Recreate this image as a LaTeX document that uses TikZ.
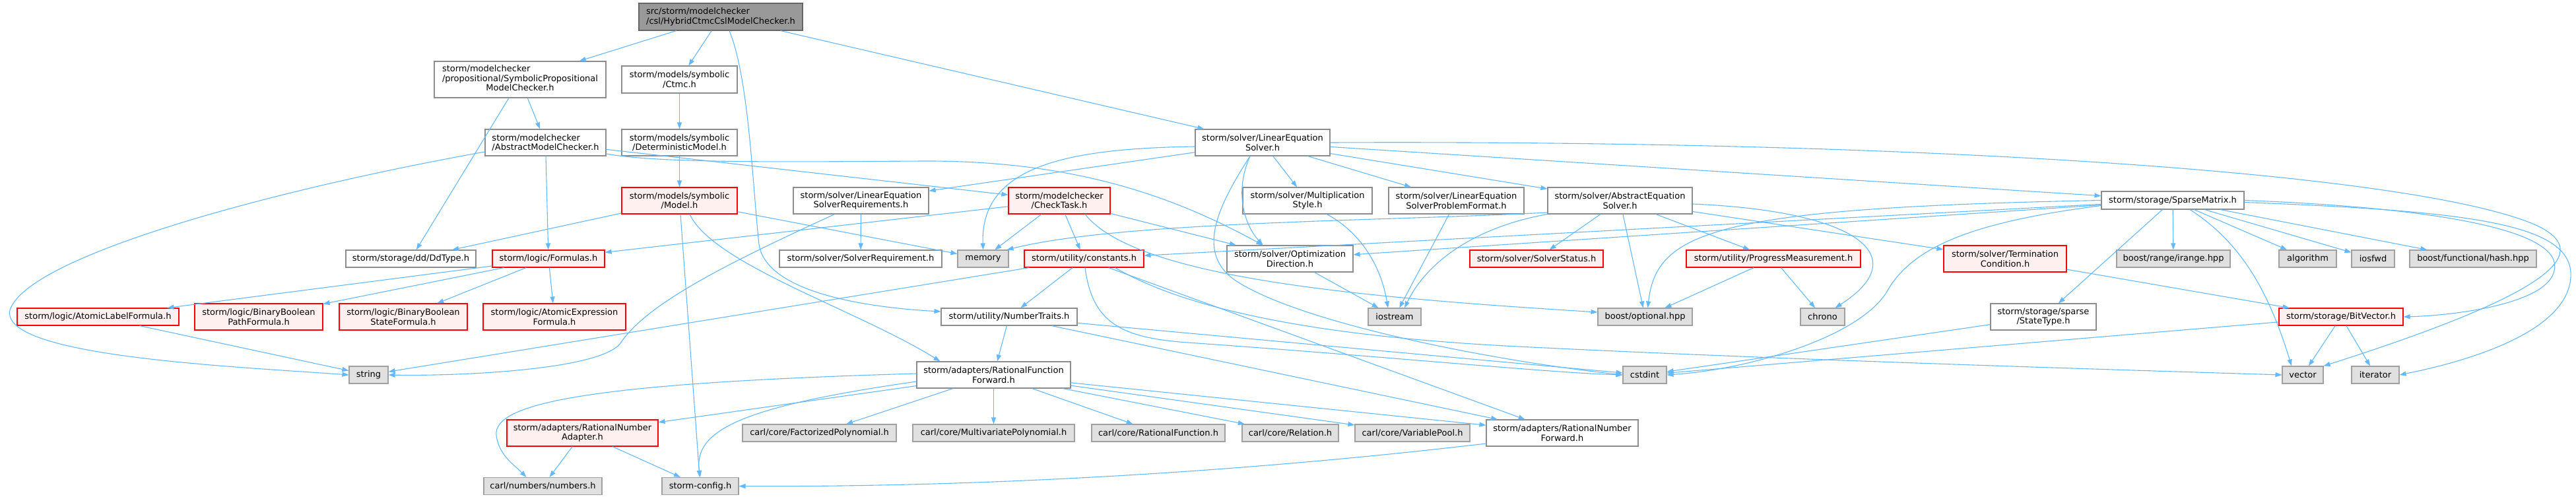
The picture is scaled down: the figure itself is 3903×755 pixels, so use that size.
\documentclass[tikz,border=0pt]{standalone}
\usepackage{fontspec}
\setmainfont{DejaVu Sans}
\usetikzlibrary{arrows.meta}
\definecolor{incblue}{HTML}{63B8FF}
\definecolor{nodeline}{HTML}{8C8C8C}
\definecolor{sysline}{HTML}{A0A0A0}
\definecolor{sysfill}{HTML}{E0E0E0}
\definecolor{redfill}{HTML}{FFF0F0}
\definecolor{rootfill}{HTML}{999999}
\definecolor{rootline}{HTML}{666666}

\begin{document}
\begin{tikzpicture}[x=1pt,y=-1pt,
    hdr/.style={draw,line width=1.1pt,inner sep=0pt,align=center,
      font=\fontsize{13}{14.5}\selectfont},
    plainhdr/.style={hdr,draw=nodeline,fill=white},
    redhdr/.style={hdr,draw=red,fill=redfill},
    syshdr/.style={hdr,draw=sysline,fill=sysfill},
    roothdr/.style={hdr,draw=rootline,fill=rootfill},
    sz/.style 2 args={minimum width=#1pt,minimum height=#2pt},
    inc/.style={draw=incblue,line width=1.1pt,
      -{Triangle[length=10pt,width=7pt]}}]
  \useasboundingbox (0,0) rectangle (3903,755);

  % The file itself and its direct includes.
  \node[roothdr,sz={248}{41},align=left] (root) at (1092,25.5)
    {src/storm/modelchecker\\/csl/HybridCtmcCslModelChecker.h};
  \node[plainhdr,sz={260}{55}] (spmc) at (788,120.5)
    {\begin{tabular}{@{}l@{}}storm/modelchecker\\
     /propositional/SymbolicPropositional\\
     \multicolumn{1}{@{}c@{}}{ModelChecker.h}\end{tabular}};
  \node[plainhdr,sz={175}{41}] (ctmc) at (1029.5,120.5)
    {storm/models/symbolic\\/Ctmc.h};
  \node[plainhdr,sz={183}{40},align=left] (amc) at (826.5,216)
    {storm/modelchecker\\/AbstractModelChecker.h};
  \node[plainhdr,sz={175}{40}] (detm) at (1029.5,216)
    {storm/models/symbolic\\/DeterministicModel.h};
  \node[plainhdr,sz={204}{40}] (les) at (1913,216)
    {storm/solver/LinearEquation\\Solver.h};

  % Row of the models and solvers.
  \node[redhdr,sz={175}{40}] (model) at (1029.5,304)
    {storm/models/symbolic\\/Model.h};
  \node[plainhdr,sz={205}{40}] (lesreq) at (1304.5,304)
    {storm/solver/LinearEquation\\SolverRequirements.h};
  \node[redhdr,sz={154}{40}] (checktask) at (1605,304)
    {storm/modelchecker\\/CheckTask.h};
  \node[plainhdr,sz={196}{40}] (multstyle) at (1981,304)
    {storm/solver/Multiplication\\Style.h};
  \node[plainhdr,sz={205}{40}] (lespf) at (2206.5,304)
    {storm/solver/LinearEquation\\SolverProblemFormat.h};
  \node[plainhdr,sz={219}{40}] (aes) at (2454.5,304)
    {storm/solver/AbstractEquation\\Solver.h};
  \node[plainhdr,sz={216}{27}] (sparse) at (3292,303.5)
    {storm/storage/SparseMatrix.h};

  % Middle row.
  \node[plainhdr,sz={197}{26}] (ddtype) at (622.5,392) {storm/storage/dd/DdType.h};
  \node[redhdr,sz={170}{26}] (formulas) at (831,392) {storm/logic/Formulas.h};
  \node[plainhdr,sz={246}{26}] (solreq) at (1304,392) {storm/solver/SolverRequirement.h};
  \node[syshdr,sz={77}{26}] (memory) at (1489.5,392) {memory};
  \node[redhdr,sz={181}{26}] (constants) at (1642.5,392) {storm/utility/constants.h};
  \node[plainhdr,sz={191}{40}] (optdir) at (1954.5,392)
    {storm/solver/Optimization\\Direction.h};
  \node[redhdr,sz={202}{26}] (solstat) at (2328,392) {storm/solver/SolverStatus.h};
  \node[redhdr,sz={264}{26}] (progress) at (2687,392)
    {storm/utility/ProgressMeasurement.h};
  \node[redhdr,sz={186}{40}] (termcond) at (3038,392)
    {storm/solver/Termination\\Condition.h};
  \node[syshdr,sz={172}{26}] (irange) at (3293,392) {boost/range/irange.hpp};
  \node[syshdr,sz={87}{26}] (algorithm) at (3496.5,392) {algorithm};
  \node[syshdr,sz={65}{26}] (iosfwd) at (3595.5,392) {iosfwd};
  \node[syshdr,sz={192}{26}] (hash) at (3747,392) {boost/functional/hash.hpp};

  % Formulas and number traits.
  \node[redhdr,sz={245}{26}] (atomlabel) at (148.5,480)
    {storm/logic/AtomicLabelFormula.h};
  \node[redhdr,sz={194}{40}] (binpath) at (392,480)
    {storm/logic/BinaryBoolean\\PathFormula.h};
  \node[redhdr,sz={194}{40}] (binstate) at (611,480)
    {storm/logic/BinaryBoolean\\StateFormula.h};
  \node[redhdr,sz={216}{40}] (atomexpr) at (840,480)
    {storm/logic/AtomicExpression\\Formula.h};
  \node[plainhdr,sz={206}{26}] (numtraits) at (1529,480) {storm/utility/NumberTraits.h};
  \node[syshdr,sz={80}{26}] (iostream) at (2113,480) {iostream};
  \node[syshdr,sz={143}{26}] (boostopt) at (2492.5,480) {boost/optional.hpp};
  \node[syshdr,sz={67}{26}] (chrono) at (2761.5,480) {chrono};
  \node[plainhdr,sz={160}{40}] (statetype) at (3096,480)
    {storm/storage/sparse\\/StateType.h};
  \node[redhdr,sz={188}{26}] (bitvector) at (3547,480) {storm/storage/BitVector.h};

  % Standard headers.
  \node[syshdr,sz={59}{26}] (string) at (558.5,568) {string};
  \node[plainhdr,sz={233}{40}] (rff) at (1505.5,568)
    {storm/adapters/RationalFunction\\Forward.h};
  \node[syshdr,sz={66}{26}] (cstdint) at (2492,568) {cstdint};
  \node[syshdr,sz={62}{26}] (vector) at (3489,568) {vector};
  \node[syshdr,sz={72}{26}] (iterator) at (3599,568) {iterator};

  % Number adapters and carl.
  \node[redhdr,sz={229}{40}] (rnadapter) at (882.5,656)
    {storm/adapters/RationalNumber\\Adapter.h};
  \node[syshdr,sz={233}{26}] (factpoly) at (1241.5,656) {carl/core/FactorizedPolynomial.h};
  \node[syshdr,sz={245}{26}] (multpoly) at (1505.5,656) {carl/core/MultivariatePolynomial.h};
  \node[syshdr,sz={202}{26}] (ratfunc) at (1755,656) {carl/core/RationalFunction.h};
  \node[syshdr,sz={146}{26}] (relation) at (1955,656) {carl/core/Relation.h};
  \node[syshdr,sz={174}{26}] (varpool) at (2140,656) {carl/core/VariablePool.h};
  \node[plainhdr,sz={230}{40}] (rnforward) at (2367,656)
    {storm/adapters/RationalNumber\\Forward.h};
  \node[syshdr,sz={179}{26}] (numbers) at (822.5,736.5) {carl/numbers/numbers.h};
  \node[syshdr,sz={116}{26}] (config) at (1061,736.5) {storm-config.h};

  % Straight includes.
  \foreach \a/\b in {root/spmc,root/ctmc,root/les,spmc/amc,spmc/ddtype,
      ctmc/detm,detm/model,amc/formulas,amc/checktask,
      model/ddtype,model/memory,model/config,lesreq/solreq,
      les/lesreq,les/multstyle,les/lespf,les/aes,les/sparse,
      checktask/formulas,checktask/memory,checktask/constants,checktask/optdir,
      lespf/iostream,optdir/iostream,
      aes/solstat,aes/boostopt,aes/progress,aes/termcond,
      progress/boostopt,progress/chrono,termcond/bitvector,
      sparse/optdir,sparse/constants,sparse/statetype,sparse/irange,
      sparse/algorithm,sparse/iosfwd,sparse/hash,
      formulas/atomlabel,formulas/binpath,formulas/binstate,formulas/atomexpr,
      atomlabel/string,constants/numtraits,constants/string,constants/rnforward,
      numtraits/rff,numtraits/cstdint,numtraits/rnforward,
      statetype/cstdint,bitvector/cstdint,bitvector/vector,bitvector/iterator,
      rff/rnadapter,rff/factpoly,rff/multpoly,rff/ratfunc,rff/relation,
      rff/varpool,rff/rnforward,rnadapter/numbers,rnadapter/config}
    \draw[inc] (\a) -- (\b);

  % Curved includes.
  \draw[inc] ([xshift=13pt]root.south) .. controls (1135,120) and (1140,280) .. (1150,370)
    .. controls (1160,440) and (1300,465) .. ([yshift=8pt]numtraits.west);
  \draw[inc] ([yshift=-14pt]amc.west) .. controls (400,290) and (40,390) .. (15,470)
    .. controls (0,540) and (350,555) .. (string.west);
  \draw[inc] ([yshift=-17pt]amc.east) .. controls (1000,248) and (1200,245) .. (1400,244)
    .. controls (1650,243) and (1800,310) .. ([xshift=-41pt]optdir.north);
  \draw[inc] ([xshift=15.5pt]model.south) .. controls (1080,400) and (1300,470)
    .. ([xshift=-81pt]rff.north);
  \draw[inc] ([xshift=-40pt]lesreq.south) .. controls (1100,400) and (980,460) .. (940,520)
    .. controls (910,560) and (700,570) .. (string.east);
  \draw[inc] ([yshift=-6pt]les.west) .. controls (1620,225) and (1485,250) .. (memory.north);
  \draw[inc] ([xshift=-19pt]les.south) .. controls (1870,290) and (1885,340)
    .. ([xshift=-41pt]optdir.north);
  \draw[inc] ([xshift=-19pt]les.south) .. controls (1840,320) and (1810,390) .. (1880,430)
    .. controls (1980,490) and (2250,545) .. (cstdint.west);
  \draw[inc] (les.east) .. controls (2900,212) and (3650,260) .. (3840,340)
    .. controls (3930,380) and (3880,440) .. (vector.north east);
  \draw[inc] ([xshift=29pt]multstyle.south) .. controls (2050,345) and (2090,390)
    .. ([xshift=-10pt]iostream.north);
  \draw[inc] ([yshift=-5pt]aes.east) .. controls (2820,320) and (2900,390)
    .. ([xshift=19pt]chrono.north);
  \draw[inc] ([yshift=-18pt]aes.west) .. controls (2100,335) and (1700,335)
    .. ([xshift=36pt]memory.north);
  \draw[inc] (aes.south west) .. controls (2230,345) and (2160,400)
    .. ([xshift=15pt]iostream.north);
  \draw[inc] (sparse.west) .. controls (2600,315) and (2510,350)
    .. ([xshift=4pt]boostopt.north);
  \draw[inc] ([yshift=-8pt]sparse.west) .. controls (3000,335) and (2900,370) .. (2860,440)
    .. controls (2820,510) and (2650,560) .. (cstdint.east);
  \draw[inc] ([xshift=26pt]sparse.south) .. controls (3400,370) and (3440,450)
    .. ([xshift=-17pt]vector.north);
  \draw[inc] (sparse.east) .. controls (3700,315) and (3885,350) .. (3870,410)
    .. controls (3860,460) and (3720,478) .. (bitvector.east);
  \draw[inc] ([yshift=-3pt]sparse.east) .. controls (3750,320) and (3900,340) .. (3895,420)
    .. controls (3890,500) and (3750,545) .. (iterator.east);
  \draw[inc] ([xshift=1.5pt]constants.south) .. controls (1655,490) and (1700,512) .. (1800,519)
    .. controls (2100,540) and (2350,565) .. (cstdint.west);
  \draw[inc] ([xshift=47pt]constants.south) .. controls (1800,470) and (2000,510) .. (2300,525)
    .. controls (2700,545) and (3200,560) .. (vector.west);
  \draw[inc] ([xshift=39pt]checktask.south) .. controls (1720,420) and (2050,450)
    .. ([yshift=7pt]boostopt.west);
  \draw[inc] ([yshift=2pt]rff.west) .. controls (900,580) and (745,610) .. (752,660)
    .. controls (756,690) and (780,705) .. ([xshift=-25pt]numbers.north);
  \draw[inc] ([yshift=-10pt]rff.west) .. controls (1130,615) and (1050,650) .. (config.north);
  \draw[inc] ([yshift=-16pt]rnforward.west) .. controls (1800,725) and (1400,738)
    .. (config.east);
\end{tikzpicture}
\end{document}
